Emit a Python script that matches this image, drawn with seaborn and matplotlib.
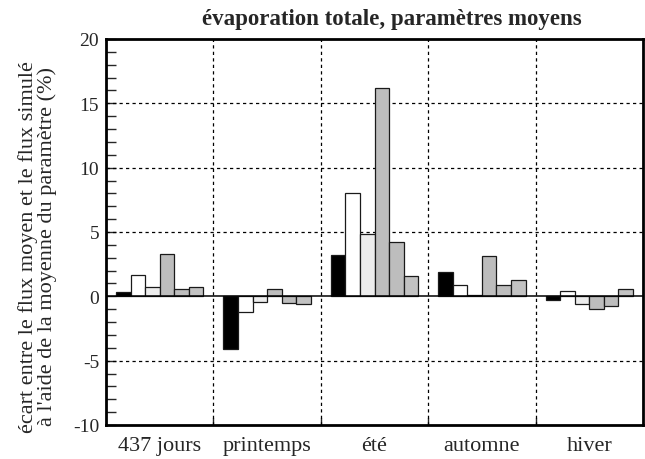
import matplotlib
matplotlib.use("Agg")
import matplotlib.pyplot as plt
from matplotlib.ticker import MultipleLocator, FixedLocator
import seaborn as sns
import pandas as pd

# Relative deviation (%) between mean flux and flux simulated with mean parameter
periods = ["437 jours", "printemps", "été", "automne", "hiver"]
param1 = [0.34, -4.09, 3.22, 1.93, -0.31]
param2 = [1.66, -1.19, 8.05, 0.91, 0.40]
param3 = [0.73, -0.41, 4.82, 0.10, -0.61]
param4 = [3.29, 0.57, 16.18, 3.12, -0.98]
param5 = [0.57, -0.52, 4.26, 0.91, -0.78]
param6 = [0.73, -0.62, 1.61, 1.24, 0.57]
series_names = ["p1", "p2", "p3", "p4", "p5", "p6"]
series_colors = ["#000000", "#ffffff", "#ececec", "#bdbdbd", "#bdbdbd", "#c2c2c2"]

rows = []
for name, vals in zip(series_names, [param1, param2, param3, param4, param5, param6]):
    for per, v in zip(periods, vals):
        rows.append({"période": per, "série": name, "écart": v})
df = pd.DataFrame(rows)

sns.set_style("white")
plt.rcParams["font.family"] = ["Liberation Serif", "DejaVu Serif"]
plt.rcParams["axes.unicode_minus"] = False

fig = plt.figure(figsize=(6.45, 4.60), dpi=100)
ax = fig.add_axes([106 / 645, 1 - 426 / 460, (643 - 106) / 645, 386 / 460])

sns.barplot(data=df, x="période", y="écart", hue="série", order=periods,
            hue_order=series_names, palette=series_colors, width=0.812,
            gap=0, edgecolor="#1a1a1a", linewidth=0.9, saturation=1,
            legend=False, ax=ax, zorder=3)

ax.set_xlim(-0.5, 4.5)
ax.set_ylim(-10, 20)

# dashed reference grid
for yv in [-5, 5, 10, 15]:
    ax.axhline(yv, color="black", lw=0.9, ls=(0, (2.6, 2.6)), zorder=1)
for xv in [0.5, 1.5, 2.5, 3.5]:
    ax.axvline(xv, color="black", lw=0.9, ls=(0, (2.6, 2.6)), zorder=1)
ax.axhline(0, color="black", lw=1.1, zorder=4)

ax.yaxis.set_major_locator(MultipleLocator(5))
ax.yaxis.set_minor_locator(MultipleLocator(1))
ax.tick_params(axis="y", which="both", direction="in", length=7, width=1,
               labelsize=14, pad=5, left=True, right=False)
ax.set_yticklabels([f"{int(t)}" for t in ax.get_yticks()])

ax.set_xticks(range(len(periods)))
ax.set_xticklabels(periods)
ax.xaxis.set_minor_locator(FixedLocator([0.5, 1.5, 2.5, 3.5]))
ax.tick_params(axis="x", which="major", length=0, labelsize=16, pad=8)
ax.tick_params(axis="x", which="minor", direction="in", length=5, width=1,
               bottom=True)

ax.set_xlabel("")
ax.set_ylabel("")
for side in ["left", "right", "top", "bottom"]:
    ax.spines[side].set_visible(True)
    ax.spines[side].set_color("black")
    ax.spines[side].set_linewidth(2)

fig.text(392 / 645, 1 - 25 / 460, "évaporation totale, paramètres moyens",
         ha="center", va="baseline", fontsize=16.5, fontweight="bold")

fig.text(37.5 / 645, 1 - 247 / 460,
         "écart entre le flux moyen et le flux simulé\n"
         "à l'aide de la moyenne du paramètre (%)",
         rotation=90, ha="center", va="center", multialignment="center",
         fontsize=16, linespacing=0.97)

fig.savefig("out.png", dpi=100)
